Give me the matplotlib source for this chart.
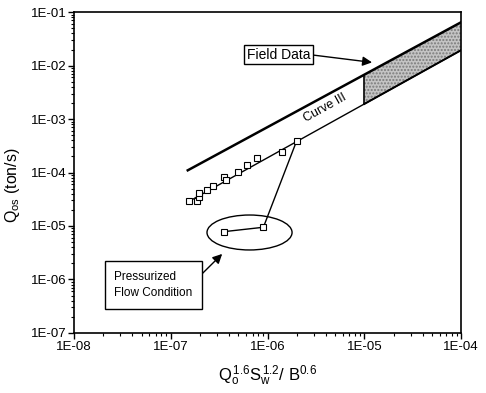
import numpy as np
import matplotlib
matplotlib.use('Agg')
import matplotlib.pyplot as plt
from matplotlib.patches import Ellipse
from matplotlib.ticker import LogLocator, NullFormatter

plt.rcParams['font.family'] = ['Liberation Sans', 'DejaVu Sans']
plt.rcParams['mathtext.fontset'] = 'custom'
plt.rcParams['mathtext.rm'] = 'Liberation Sans'
plt.rcParams['mathtext.it'] = 'Liberation Sans'

# measured points along curve III
x_data = [1.56e-7, 1.85e-7, 1.97e-7, 1.97e-7, 2.36e-7, 2.72e-7, 3.55e-7,
          3.72e-7, 4.96e-7, 6.18e-7, 7.72e-7, 1.42e-6, 2.0e-6]
y_data = [2.97e-5, 2.9e-5, 3.44e-5, 4.08e-5, 4.71e-5, 5.6e-5, 8.35e-5,
          7.24e-5, 1.03e-4, 1.38e-4, 1.89e-4, 2.45e-4, 3.93e-4]

# pressurized flow condition points (path from last curve point)
x_press = [2.0e-6, 9.06e-7, 3.55e-7]
y_press = [3.93e-4, 9.46e-6, 7.83e-6]

# upper line and curve III (end points)
x_upper = [1.5e-7, 1e-4]
y_upper = [1.1e-4, 6.5e-2]
x_curve3 = [1.5e-7, 1e-4]
y_curve3 = [2.8e-5, 1.95e-2]

# field data band
x_field = [1e-5, 1e-4]

x_ticks = [1e-8, 1e-7, 1e-6, 1e-5, 1e-4]
x_ticklabels = ['1E-08', '1E-07', '1E-06', '1E-05', '1E-04']
y_ticks = [1e-7, 1e-6, 1e-5, 1e-4, 1e-3, 1e-2, 1e-1]
y_ticklabels = ['1E-07', '1E-06', '1E-05', '1E-04', '1E-03', '1E-02', '1E-01']


def loglin(xs, ys, xq):
    # straight line in log-log space
    lx = np.log10(xs)
    ly = np.log10(ys)
    return 10 ** np.interp(np.log10(xq), lx, ly)


fig = plt.figure(figsize=(4.86, 3.93), dpi=100)
ax = fig.add_axes([0.152, 0.153, 0.797, 0.816])
ax.set_xscale('log')
ax.set_yscale('log')
ax.set_xlim(1e-8, 1e-4)
ax.set_ylim(1e-7, 1e-1)

# field data band
xf = np.logspace(np.log10(x_field[0]), np.log10(x_field[1]), 50)
ax.fill_between(xf, loglin(x_curve3, y_curve3, xf), loglin(x_upper, y_upper, xf),
                facecolor='#c4c4c4', edgecolor='#7a7a7a', hatch='.....', lw=0)
ax.plot([x_field[0], x_field[0]],
        [loglin(x_curve3, y_curve3, x_field[0]), loglin(x_upper, y_upper, x_field[0])],
        color='black', lw=1.2)
ax.plot(xf, loglin(x_curve3, y_curve3, xf), color='black', lw=1.4)

ax.plot(x_upper, y_upper, color='black', lw=1.8)
ax.plot(x_curve3, y_curve3, color='black', lw=1.0)
ax.plot(x_press, y_press, color='black', lw=1.0)
ax.plot(x_data, y_data, 's', ms=4.5, mfc='white', mec='black', mew=0.8)
ax.plot(x_press[1:], y_press[1:], 's', ms=4.5, mfc='white', mec='black', mew=0.8)

ax.text(3.9e-6, 1.6e-3, 'Curve III', rotation=29, fontsize=9,
        ha='center', va='center')

ax.add_patch(Ellipse((0.4535, 0.313), 0.2196, 0.109, transform=ax.transAxes,
                     fill=False, edgecolor='black', lw=1.0))

ax.annotate('Field Data', xy=(1.2e-5, 1.15e-2), xytext=(1.3e-6, 1.6e-2),
            fontsize=10, ha='center', va='center',
            bbox=dict(boxstyle='square,pad=0.2', fc='white', ec='black', lw=1.0),
            arrowprops=dict(arrowstyle='-|>', color='black', lw=1.0,
                            mutation_scale=14, shrinkA=0, shrinkB=0,
                            relpos=(1.0, 0.5)))

ax.annotate('Pressurized\nFlow Condition', xy=(3.4e-7, 3.0e-6), xytext=(2.6e-8, 7.9e-7),
            fontsize=8.5, ha='left', va='center', linespacing=1.5,
            bbox=dict(boxstyle='square,pad=0.8', fc='white', ec='black', lw=1.0),
            arrowprops=dict(arrowstyle='-|>', color='black', lw=1.0,
                            mutation_scale=14, shrinkA=0, shrinkB=0,
                            relpos=(1.0, 0.55)))

ax.set_xticks(x_ticks)
ax.set_xticklabels(x_ticklabels)
ax.set_yticks(y_ticks)
ax.set_yticklabels(y_ticklabels)
ax.xaxis.set_minor_locator(LogLocator(base=10, subs=np.arange(2, 10), numticks=20))
ax.yaxis.set_minor_locator(LogLocator(base=10, subs=np.arange(2, 10), numticks=20))
ax.xaxis.set_minor_formatter(NullFormatter())
ax.yaxis.set_minor_formatter(NullFormatter())
ax.tick_params(which='major', direction='out', length=4, width=1.0,
               labelsize=9.5, pad=1.5, top=False, right=False)
ax.tick_params(which='minor', direction='out', length=2.5, width=0.8,
               top=False, right=False)
for sp in ax.spines.values():
    sp.set_linewidth(1.2)

ax.set_ylabel(r'$\mathregular{Q_{os}}$ (ton/s)', fontsize=11.5, labelpad=3)
ax.yaxis.set_label_coords(-0.135, 0.46)
ax.set_xlabel(r'$\mathregular{Q_o^{\,1.6}S_w^{\,1.2}/\ B^{0.6}}$', fontsize=12, labelpad=8)

fig.savefig('out.png', dpi=100)
